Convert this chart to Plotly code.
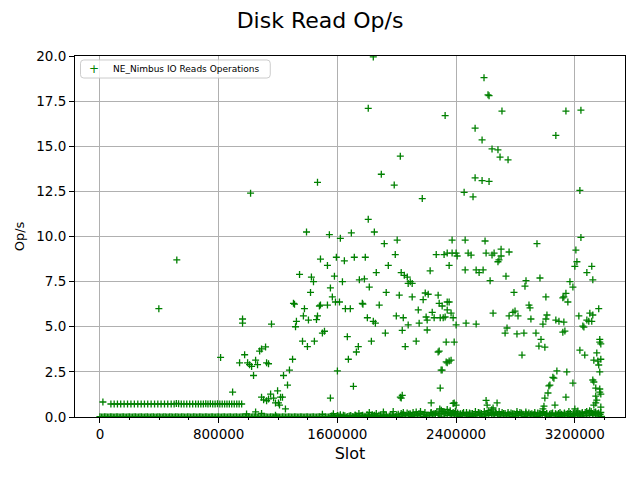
import plotly.graph_objects as go

# dense run of reads sitting at zero across the whole slot range
base_pts = [
    (0, 0.02), (20000, 0), (40000, 0.02), (60000, 0), (80000, 0.02), (100000, 0), (120000, 0.02), (140000, 0),
    (160000, 0.02), (180000, 0), (200000, 0.02), (220000, 0), (240000, 0.02), (260000, 0), (280000, 0.02),
    (300000, 0), (320000, 0.02), (340000, 0), (360000, 0.02), (380000, 0), (400000, 0.02), (420000, 0),
    (440000, 0.02), (460000, 0), (480000, 0.02), (500000, 0), (520000, 0.02), (540000, 0), (560000, 0.02),
    (580000, 0), (600000, 0.02), (620000, 0), (640000, 0.02), (660000, 0), (680000, 0.02), (700000, 0),
    (720000, 0.02), (740000, 0), (760000, 0.02), (780000, 0), (800000, 0.02), (820000, 0), (840000, 0.02),
    (860000, 0), (880000, 0.02), (900000, 0), (920000, 0.02), (940000, 0), (960000, 0.02), (980000, 0),
    (1000000, 0.02), (1020000, 0), (1040000, 0.02), (1060000, 0), (1080000, 0.02), (1100000, 0),
    (1120000, 0.02), (1140000, 0), (1160000, 0.02), (1180000, 0), (1200000, 0.02), (1220000, 0),
    (1240000, 0.02), (1260000, 0), (1280000, 0.02), (1300000, 0), (1320000, 0.02), (1340000, 0),
    (1360000, 0.02), (1380000, 0), (1400000, 0.02), (1420000, 0), (1440000, 0.02), (1460000, 0),
    (1480000, 0.02), (1500000, 0), (1520000, 0.02), (1540000, 0),
    (1560000, 0.05), (1580000, 0), (1600000, 0.08), (1620000, 0.02), (1640000, 0.1), (1660000, 0),
    (1680000, 0.06), (1700000, 0.03), (1720000, 0.1), (1740000, 0), (1760000, 0.08), (1780000, 0.04),
    (1800000, 0.12), (1820000, 0), (1840000, 0.07), (1860000, 0.03), (1880000, 0.1), (1900000, 0.05),
    (1920000, 0.12), (1940000, 0), (1960000, 0.08), (1980000, 0.04), (2000000, 0.1), (2020000, 0.02),
    (2040000, 0.12), (2060000, 0.06), (2080000, 0.15), (2100000, 0.03), (2120000, 0.1), (2140000, 0.08),
    (2160000, 0.14), (2180000, 0.02), (2200000, 0.1), (2220000, 0.06), (2240000, 0.15), (2260000, 0.1),
    (2280000, 0.12), (2300000, 0.05), (2320000, 0.18), (2340000, 0.08), (2360000, 0.14), (2380000, 0.1),
    (2400000, 0.12), (2420000, 0.04), (2440000, 0.1), (2460000, 0.06), (2480000, 0.12), (2500000, 0.03),
    (2520000, 0.1), (2540000, 0.07), (2560000, 0.12), (2580000, 0.05), (2600000, 0.15), (2620000, 0.08),
    (2640000, 0.14), (2660000, 0.1), (2680000, 0.12), (2700000, 0.05), (2720000, 0.1), (2740000, 0.06),
    (2760000, 0.12), (2780000, 0.03), (2800000, 0.1), (2820000, 0.07), (2840000, 0.12), (2860000, 0.04),
    (2880000, 0.1), (2900000, 0.06), (2920000, 0.12), (2940000, 0.03), (2960000, 0.1), (2980000, 0.08),
    (3000000, 0.14), (3020000, 0.05), (3040000, 0.1), (3060000, 0.06), (3080000, 0.12), (3100000, 0.03),
    (3120000, 0.1), (3140000, 0.07), (3160000, 0.12), (3180000, 0.04), (3200000, 0.1), (3220000, 0.06),
    (3240000, 0.12), (3260000, 0.05), (3280000, 0.1), (3300000, 0.08), (3320000, 0.14), (3340000, 0.06),
    (3360000, 0.12), (3380000, 0.04),
]

# more zero-ish reads between the ones above (the band is solid in the source)
base_fill_pts = [
    (10000, 0), (30000, 0.02), (50000, 0), (70000, 0.02), (90000, 0), (110000, 0.02), (130000, 0),
    (150000, 0.02), (170000, 0), (190000, 0.02), (210000, 0), (230000, 0.02), (250000, 0), (270000, 0.02),
    (290000, 0), (310000, 0.02), (330000, 0), (350000, 0.02), (370000, 0), (390000, 0.02), (410000, 0),
    (430000, 0.02), (450000, 0), (470000, 0.02), (490000, 0), (510000, 0.02), (530000, 0), (550000, 0.02),
    (570000, 0), (590000, 0.02), (610000, 0), (630000, 0.02), (650000, 0), (670000, 0.02), (690000, 0),
    (710000, 0.02), (730000, 0), (750000, 0.02), (770000, 0), (790000, 0.02), (810000, 0), (830000, 0.02),
    (850000, 0), (870000, 0.02), (890000, 0), (910000, 0.02), (930000, 0), (950000, 0.02), (970000, 0),
    (990000, 0.02), (1010000, 0), (1030000, 0.02), (1050000, 0), (1070000, 0.02), (1090000, 0),
    (1110000, 0.02), (1130000, 0), (1150000, 0.02), (1170000, 0), (1190000, 0.02), (1210000, 0),
    (1230000, 0.02), (1250000, 0), (1270000, 0.02), (1290000, 0), (1310000, 0.02), (1330000, 0),
    (1350000, 0.02), (1370000, 0), (1390000, 0.02), (1410000, 0), (1430000, 0.02), (1450000, 0),
    (1470000, 0.02), (1490000, 0), (1510000, 0.02), (1530000, 0),
    (1550000, 0.02), (1570000, 0.06), (1590000, 0.03), (1610000, 0.05), (1630000, 0), (1650000, 0.07),
    (1670000, 0.03), (1690000, 0.08), (1710000, 0.02), (1730000, 0.06), (1750000, 0.04), (1770000, 0.1),
    (1790000, 0.02), (1810000, 0.08), (1830000, 0.05), (1850000, 0.1), (1870000, 0.02), (1890000, 0.08),
    (1910000, 0.04), (1930000, 0.1), (1950000, 0.06), (1970000, 0.12), (1990000, 0.03), (2010000, 0.15),
    (2030000, 0.2), (2050000, 0.1), (2070000, 0.22), (2090000, 0.18), (2110000, 0.25), (2130000, 0.12),
    (2150000, 0.2), (2170000, 0.15), (2190000, 0.25), (2210000, 0.1), (2230000, 0.22), (2250000, 0.18),
    (2270000, 0.28), (2290000, 0.2), (2310000, 0.3), (2330000, 0.22), (2350000, 0.25), (2370000, 0.18),
    (2390000, 0.2), (2410000, 0.22), (2430000, 0.18), (2450000, 0.25), (2470000, 0.12), (2490000, 0.22),
    (2510000, 0.2), (2530000, 0.15), (2550000, 0.25), (2570000, 0.2), (2590000, 0.3), (2610000, 0.22),
    (2630000, 0.25), (2650000, 0.18), (2670000, 0.22), (2690000, 0.15), (2710000, 0.25), (2730000, 0.2),
    (2750000, 0.15), (2770000, 0.22), (2790000, 0.18), (2810000, 0.2), (2830000, 0.25), (2850000, 0.15),
    (2870000, 0.2), (2890000, 0.22), (2910000, 0.18), (2930000, 0.15), (2950000, 0.22), (2970000, 0.18),
    (2990000, 0.25), (3010000, 0.2), (3030000, 0.15), (3050000, 0.22), (3070000, 0.18), (3090000, 0.2),
    (3110000, 0.15), (3130000, 0.22), (3150000, 0.18), (3170000, 0.2), (3190000, 0.15), (3210000, 0.22),
    (3230000, 0.18), (3250000, 0.2), (3270000, 0.25), (3290000, 0.22), (3310000, 0.3), (3330000, 0.25),
    (3350000, 0.2), (3370000, 0.15),
]

# low reads just above the zero band
noise_pts = [
    (988000, 0.17), (1049000, 0.28), (1089000, 0.2), (1183000, 0.1), (1499000, 0.15), (1573000, 0.18),
    (1620000, 0.12), (1720000, 0.1), (1745000, 0.2), (1815000, 0.25), (1835000, 0.12), (1862000, 0.2),
    (1910000, 0.28), (1976000, 0.3), (2044000, 0.25), (2090000, 0.12), (2131000, 0.28), (2160000, 0.3),
    (2185000, 0.15), (2232000, 0.25), (2260000, 0.2), (2290000, 0.45), (2300000, 0.38), (2318000, 0.3),
    (2340000, 0.42), (2360000, 0.35), (2380000, 0.25), (2395000, 0.3), (2420000, 0.15), (2445000, 0.2),
    (2470000, 0.25), (2500000, 0.18), (2530000, 0.3), (2560000, 0.22), (2590000, 0.15), (2620000, 0.35),
    (2640000, 0.4), (2665000, 0.28), (2690000, 0.3), (2720000, 0.2), (2750000, 0.25), (2780000, 0.18),
    (2810000, 0.3), (2840000, 0.22), (2870000, 0.28), (2900000, 0.15), (2930000, 0.25), (2960000, 0.2),
    (2985000, 0.3), (3010000, 0.18), (3040000, 0.2), (3070000, 0.15), (3100000, 0.25), (3130000, 0.2),
    (3160000, 0.3), (3190000, 0.22), (3220000, 0.18), (3250000, 0.25), (3280000, 0.3), (3300000, 0.35),
    (3320000, 0.2), (3340000, 0.28), (3360000, 0.22), (3375000, 0.25),
]

# steady ~0.7 op/s run in the early slots
band_pts = [
    (20000, 0.83), (74000, 0.72), (96000, 0.72), (118000, 0.72), (140000, 0.72), (163000, 0.72),
    (186000, 0.72), (209000, 0.72), (232000, 0.72), (255000, 0.72), (278000, 0.72), (300000, 0.72),
    (322000, 0.72), (345000, 0.72), (368000, 0.72), (390000, 0.72), (412000, 0.72), (435000, 0.72),
    (457000, 0.72), (480000, 0.72), (500000, 0.72), (515000, 0.75), (530000, 0.74), (548000, 0.72),
    (566000, 0.72), (585000, 0.72), (605000, 0.72), (625000, 0.72), (645000, 0.72), (663000, 0.72),
    (680000, 0.72), (697000, 0.72), (713000, 0.74), (728000, 0.72), (744000, 0.74), (760000, 0.72),
    (776000, 0.72), (792000, 0.74), (808000, 0.72), (824000, 0.72), (840000, 0.72), (856000, 0.72),
    (872000, 0.72), (888000, 0.72), (905000, 0.72), (922000, 0.72), (938000, 0.72), (955000, 0.72),
]

# scattered reads below ~5 op/s
low_pts = [
    (813000, 3.3), (894000, 1.38), (941000, 3.0), (975000, 3.45), (995000, 3.0), (1008000, 2.9),
    (1022000, 2.8), (1035000, 2.3), (1049000, 3.15), (1062000, 2.9), (1076000, 3.65), (1089000, 3.77),
    (1116000, 3.88), (1123000, 3.0), (1136000, 2.95), (1089000, 1.1), (1103000, 0.95), (1123000, 0.9),
    (1136000, 1.0), (1150000, 1.27), (1170000, 1.05), (1183000, 0.78), (1203000, 0.78), (1197000, 1.45),
    (1217000, 1.1), (1230000, 1.1), (1250000, 0.45), (1210000, 0.66), (1237000, 2.3), (1264000, 1.77),
    (1277000, 2.6), (1298000, 3.2), (1365000, 4.2), (1398000, 3.9), (1445000, 4.2), (1499000, 4.65),
    (1513000, 4.75), (1600000, 2.55), (1553000, 1.05), (1667000, 4.45), (1674000, 3.2), (1708000, 1.7),
    (1728000, 3.6), (1741000, 3.9), (1829000, 4.2), (1923000, 4.65), (2024000, 1.1), (2037000, 1.2),
    (2030000, 1.05), (2057000, 3.9), (2037000, 4.8), (2131000, 4.2), (2205000, 4.82), (2286000, 3.65),
    (2306000, 2.6), (2293000, 1.6), (2232000, 0.78), (2279000, 3.6), (2333000, 3.05), (2353000, 3.1),
    (2333000, 4.15), (2387000, 4.15), (2387000, 0.78), (2400000, 0.66), (2340000, 3.0), (2366000, 3.15),
    (2299000, 2.6), (2730000, 4.65), (2743000, 4.93), (2810000, 4.6), (2857000, 4.65), (2938000, 4.65),
    (2972000, 4.3), (2958000, 3.93), (2998000, 3.87), (2844000, 3.43), (3119000, 4.7), (3133000, 4.76),
    (3254000, 5.04), (3261000, 4.98), (3368000, 4.3), (3368000, 4.15), (3375000, 4.05), (3234000, 3.7),
    (3267000, 3.43), (3348000, 3.55), (3328000, 3.15), (3355000, 3.1), (3375000, 3.2), (3361000, 2.88),
    (3368000, 2.5), (3321000, 2.05), (3328000, 1.94), (3341000, 1.6), (3368000, 1.55), (3375000, 1.27),
    (3368000, 1.38), (3341000, 1.16), (3375000, 0.55), (3341000, 0.78), (3328000, 0.66), (3348000, 0.94),
    (3146000, 2.5), (3079000, 2.55), (3052000, 2.2), (3059000, 2.15), (3032000, 1.77), (3025000, 1.72),
    (3019000, 1.33), (2998000, 1.05), (2992000, 0.6), (2985000, 0.45), (3187000, 1.88), (3140000, 1.1),
    (3066000, 0.66), (3200000, 0.45), (3220000, 0.33), (2380000, 0.75), (2602000, 0.92), (2676000, 0.78),
    (2649000, 0.5), (2609000, 0.66),
]

# scattered reads in the 5-10 op/s range
mid_pts = [
    (397000, 6.0), (518000, 8.7), (961000, 5.43), (961000, 5.2), (1156000, 5.15), (1304000, 6.3),
    (1311000, 6.25), (1318000, 5.0), (1324000, 5.3), (1345000, 7.9), (1371000, 5.6), (1378000, 6.0),
    (1405000, 5.37), (1419000, 6.9), (1425000, 7.75), (1439000, 7.5), (1459000, 5.4), (1466000, 5.6),
    (1479000, 6.15), (1486000, 6.2), (1486000, 8.75), (1533000, 8.4), (1533000, 6.2), (1553000, 7.15),
    (1566000, 6.65), (1580000, 7.8), (1587000, 6.37), (1593000, 8.85), (1614000, 6.37), (1634000, 7.5),
    (1647000, 8.65), (1654000, 6.0), (1687000, 6.0), (1714000, 8.85), (1748000, 7.6), (1768000, 6.3),
    (1772000, 6.25), (1782000, 7.65), (1788000, 8.85), (1802000, 5.5), (1842000, 5.3), (1856000, 5.2),
    (1815000, 7.2), (1862000, 8.0), (1882000, 6.2), (1916000, 9.6), (1929000, 6.9), (1943000, 8.4),
    (1990000, 9.0), (1997000, 5.6), (2003000, 9.8), (2017000, 6.75), (2030000, 8.0), (2051000, 7.85),
    (2071000, 7.75), (2077000, 7.4), (2091000, 7.5), (2104000, 7.4), (2044000, 5.5), (2077000, 5.1),
    (2104000, 6.65), (2145000, 5.93), (2151000, 5.2), (2178000, 6.5), (2192000, 6.87), (2198000, 5.54),
    (2205000, 5.37), (2212000, 6.8), (2225000, 8.1), (2239000, 5.8), (2252000, 5.5), (2266000, 9.0),
    (2279000, 6.75), (2286000, 6.3), (2293000, 5.5), (2306000, 6.15), (2313000, 5.5), (2319000, 9.0),
    (2326000, 5.54), (2340000, 6.37), (2340000, 5.93), (2353000, 6.37), (2366000, 5.76), (2380000, 5.5),
    (2400000, 5.1), (2467000, 5.2), (2535000, 5.15), (2373000, 9.8), (2461000, 9.8), (2595000, 9.75),
    (3241000, 9.95), (2945000, 9.6), (2340000, 9.08), (2373000, 9.08), (2400000, 9.08), (2407000, 8.92),
    (2481000, 9.08), (2501000, 8.97), (2602000, 9.08), (2642000, 8.97), (2656000, 9.08), (2682000, 8.6),
    (2689000, 8.7), (2703000, 8.92), (2703000, 9.3), (2757000, 9.14), (2353000, 8.4), (2461000, 8.15),
    (2535000, 8.15), (2555000, 8.0), (2582000, 8.15), (2629000, 7.55), (2736000, 7.8), (2871000, 7.55),
    (2864000, 7.25), (2965000, 7.7), (2790000, 6.9), (3005000, 6.65), (2891000, 6.2), (2898000, 6.05),
    (3167000, 7.5), (3187000, 7.2), (3140000, 6.85), (3126000, 6.65), (3119000, 6.6), (3153000, 6.37),
    (3207000, 9.25), (3214000, 8.6), (3200000, 8.35), (3281000, 8.0), (3314000, 8.35), (3321000, 7.6),
    (2649000, 5.75), (2757000, 5.6), (2783000, 5.8), (2797000, 5.87), (2817000, 5.6), (2904000, 5.43),
    (3012000, 5.65), (3005000, 5.43), (2985000, 5.15), (3072000, 5.37), (3093000, 5.3), (3126000, 5.26),
    (3227000, 5.6), (3281000, 5.37), (3301000, 5.75), (3294000, 5.3), (3321000, 5.65), (3314000, 5.3),
    (3361000, 6.0),
]

# the few high readings
high_pts = [
    (1015000, 12.4), (1842000, 19.95), (1808000, 17.1), (2024000, 14.45), (1896000, 13.45),
    (1466000, 13.0), (1983000, 12.85), (2172000, 12.1), (1808000, 10.95), (1392000, 10.25),
    (1546000, 10.1), (1620000, 9.9), (1694000, 10.2), (1849000, 10.25), (2326000, 16.7),
    (2588000, 18.8), (2615000, 17.85), (2622000, 17.8), (2709000, 16.95), (3140000, 16.95),
    (3241000, 17.0), (2528000, 16.0), (2575000, 15.35), (3072000, 15.6), (2642000, 14.85),
    (2682000, 14.8), (2696000, 14.4), (2750000, 14.25), (2528000, 13.25), (2575000, 13.1),
    (2622000, 13.05), (2454000, 12.45), (2514000, 12.2), (3234000, 12.55),
]

series_name = 'NE_Nimbus IO Reads Operations'

all_pts = base_pts + base_fill_pts + noise_pts + band_pts + low_pts + mid_pts + high_pts
xs = [p[0] for p in all_pts]
ys = [p[1] for p in all_pts]

fig = go.Figure()
fig.add_trace(go.Scatter(
    x=xs, y=ys, mode='markers', name=series_name, showlegend=False,
    marker=dict(symbol='cross-thin', size=5, color='green',
                line=dict(color='green', width=1.3)),
))

axis_style = dict(showline=True, linecolor='black', linewidth=1, mirror=True,
                  showgrid=True, gridcolor='#b0b0b0', gridwidth=1,
                  ticks='outside', ticklen=5, tickcolor='black',
                  tickfont=dict(size=13.5, color='black'), zeroline=False)

# matplotlib-like legend box (plotly's own legend can't get this compact)
r_x, r_y = 0.006, 0.009
x0, x1, y0, y1 = 0.01, 0.355, 0.939, 0.989
legend_path = (f'M{x0 + r_x},{y1} L{x1 - r_x},{y1} Q{x1},{y1} {x1},{y1 - r_y} '
               f'L{x1},{y0 + r_y} Q{x1},{y0} {x1 - r_x},{y0} L{x0 + r_x},{y0} '
               f'Q{x0},{y0} {x0},{y0 + r_y} L{x0},{y1 - r_y} Q{x0},{y1} {x0 + r_x},{y1} Z')

fig.update_layout(
    width=632, height=472,
    paper_bgcolor='white', plot_bgcolor='white',
    font=dict(family='DejaVu Sans', color='black'),
    margin=dict(l=67, r=15, t=48, b=63),
    title=dict(text='Disk Read Op/s', x=0.4937, xanchor='center', y=0.975, yanchor='middle',
               font=dict(size=22)),
    xaxis=dict(range=[-168000, 3538000], tick0=0, dtick=800000, tickformat='d',
               title=dict(text='Slot', font=dict(size=16), standoff=6),
               minor=dict(dtick=200000, ticks='outside', ticklen=2, tickcolor='black', showgrid=False),
               **axis_style),
    yaxis=dict(range=[0, 20], tick0=0, dtick=2.5, tickformat='.1f',
               title=dict(text='Op/s', font=dict(size=13), standoff=8),
               **axis_style),
    shapes=[dict(type='path', xref='paper', yref='paper', path=legend_path,
                 line=dict(color='#cccccc', width=1), fillcolor='rgba(255,255,255,0.8)', layer='above')],
    annotations=[
        dict(xref='paper', yref='paper', x=0.034, y=0.964, text='+', showarrow=False,
             font=dict(size=12, color='green'), xanchor='center', yanchor='middle'),
        dict(xref='paper', yref='paper', x=0.0655, y=0.964, text=series_name, showarrow=False,
             font=dict(size=9, color='black'), xanchor='left', yanchor='middle'),
    ],
)

fig.write_html("out.html")
